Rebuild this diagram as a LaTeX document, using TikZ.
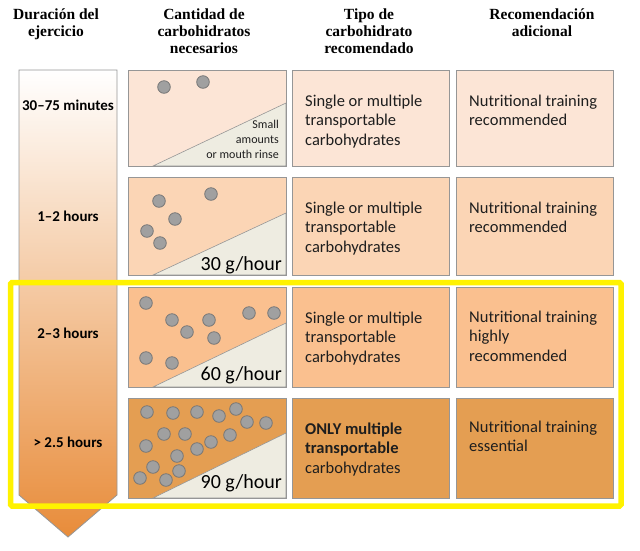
\documentclass[tikz,border=0pt]{standalone}
\usepackage{fontspec}
\setmainfont{Carlito}
\newfontfamily\hdrfont{Liberation Serif}
\usetikzlibrary{shadows}
\definecolor{rowa}{RGB}{252,229,214}
\definecolor{rowb}{RGB}{251,213,181}
\definecolor{rowc}{RGB}{250,192,143}
\definecolor{rowd}{RGB}{228,158,82}
\definecolor{tri}{RGB}{238,236,225}
\definecolor{bord}{RGB}{150,150,150}
\definecolor{dotf}{RGB}{160,160,160}
\definecolor{dotb}{RGB}{118,118,118}
\definecolor{arrm}{RGB}{243,200,176}
\definecolor{arrb}{RGB}{232,140,58}
\definecolor{txtc}{RGB}{30,30,30}
\begin{document}
\begin{tikzpicture}[x=1pt,y=-1pt,
  hdr/.style={font=\hdrfont\bfseries\fontsize{15.5}{17}\selectfont, align=center, anchor=north, inner sep=0, text=black},
  cell/.style={anchor=north west, inner sep=0, outer sep=0, draw=bord, line width=0.8pt,
    general shadow={fill=black!20, shadow xshift=1.2pt, shadow yshift=-1.3pt}},
  ctext/.style={font=\fontsize{16.5}{19.5}\selectfont, align=left, anchor=north west, inner sep=0, text=txtc},
  dur/.style={font=\bfseries\fontsize{15}{17}\selectfont, anchor=base, inner sep=0, text=black},
  rate/.style={font=\fontsize{20}{22}\selectfont, anchor=base east, inner sep=0, text=black},
  small/.style={font=\fontsize{12}{15}\selectfont, align=right, anchor=north east, inner sep=0, text=txtc},
  dot/.style={fill=dotf, draw=dotb, line width=0.8pt},
  tris/.style={fill=tri, draw=bord, line width=0.6pt},
  rim/.style={draw=bord, line width=0.8pt}
]
\useasboundingbox (0,0) rectangle (640,550);

% headers
\node[hdr] (h1) at (56,7) {\rule{0pt}{12pt}Duración del\\ejercicio};
\node[hdr] (h2) at (204,7) {\rule{0pt}{12pt}Cantidad de\\carbohidratos\\necesarios};
\node[hdr] (h3) at (369,7) {\rule{0pt}{12pt}Tipo de\\carbohidrato\\recomendado};
\node[hdr] (h4) at (542,7) {\rule{0pt}{12pt}Recomendación\\adicional};

% duration arrow
\path[shade, top color=white, middle color=arrm, bottom color=arrb, draw=bord, line width=0.8pt]
  (19,70) -- (117,70) -- (117,495) -- (68,537) -- (19,495) -- cycle;

\node[dur] (d1) at (68,110) {30–75 minutes};
\node[dur] (d2) at (68,221) {1–2 hours};
\node[dur] (d3) at (68,338) {2–3 hours};
\node[dur] (d4) at (68,447) {> 2.5 hours};

% row 1
\node[cell, fill=rowa, minimum width=158pt, minimum height=96pt] (b21) at (128,70) {};
\node[cell, fill=rowa, minimum width=157pt, minimum height=96pt] (b31) at (292,70) {};
\node[cell, fill=rowa, minimum width=157pt, minimum height=96pt] (b41) at (456,70) {};
% row 2
\node[cell, fill=rowb, minimum width=158pt, minimum height=98pt] (b22) at (128,177) {};
\node[cell, fill=rowb, minimum width=157pt, minimum height=98pt] (b32) at (292,177) {};
\node[cell, fill=rowb, minimum width=157pt, minimum height=98pt] (b42) at (456,177) {};
% row 3
\node[cell, fill=rowc, minimum width=158pt, minimum height=100pt] (b23) at (128,287) {};
\node[cell, fill=rowc, minimum width=157pt, minimum height=100pt] (b33) at (292,287) {};
\node[cell, fill=rowc, minimum width=157pt, minimum height=100pt] (b43) at (456,287) {};
% row 4
\node[cell, fill=rowd, minimum width=158pt, minimum height=100pt] (b24) at (128,398) {};
\node[cell, fill=rowd, minimum width=157pt, minimum height=100pt] (b34) at (292,398) {};
\node[cell, fill=rowd, minimum width=157pt, minimum height=100pt] (b44) at (456,398) {};

% triangles
\filldraw[tris] (153,166) -- (286,103) -- (286,166) -- cycle;
\filldraw[tris] (153,275) -- (286,213) -- (286,275) -- cycle;
\filldraw[tris] (153,387) -- (286,323) -- (286,387) -- cycle;
\filldraw[tris] (153,498) -- (286,433) -- (286,498) -- cycle;
\draw[rim] (b21.north west) rectangle (b21.south east);
\draw[rim] (b22.north west) rectangle (b22.south east);
\draw[rim] (b23.north west) rectangle (b23.south east);
\draw[rim] (b24.north west) rectangle (b24.south east);

% dots
\foreach \p in {(164,87),(203,82)} \draw[dot] \p circle[radius=6.3pt];
\foreach \p in {(159,201),(211,194),(175,219),(147,231),(160,243)} \draw[dot] \p circle[radius=6.3pt];
\foreach \p in {(146,303),(172,320),(209,320),(249,313),(274,313),(187,332),(214,338),(146,358),(172,363)} \draw[dot] \p circle[radius=6.3pt];
\foreach \p in {(147,412),(173,413),(197,412),(219,416),(236,409),(247,422),(266,423),(164,434),(185,434),(230,435),(211,442),(146,446),(197,449),(177,456),(153,467),(179,471),(140,478),(166,480)} \draw[dot] \p circle[radius=6.3pt];

% amounts
\node[small] (s1) at (279,118) {\rule{0pt}{10pt}Small\\amounts\\or mouth rinse};
\node[rate] (s2) at (282,270) {30 g/hour};
\node[rate] (s3) at (282,380) {60 g/hour};
\node[rate] (s4) at (282,488) {90 g/hour};

% type
\node[ctext] (t1) at (305,94) {\rule{0pt}{12pt}Single or multiple\\transportable\\carbohydrates};
\node[ctext] (t2) at (305,201) {\rule{0pt}{12pt}Single or multiple\\transportable\\carbohydrates};
\node[ctext] (t3) at (305,311) {\rule{0pt}{12pt}Single or multiple\\transportable\\carbohydrates};
\node[ctext] (t4) at (305,422) {\rule{0pt}{12pt}\textbf{ONLY multiple}\\\textbf{transportable}\\carbohydrates};

% recommendation
\node[ctext] (r1) at (469,94) {\rule{0pt}{12pt}Nutritional training\\recommended};
\node[ctext] (r2) at (469,201) {\rule{0pt}{12pt}Nutritional training\\recommended};
\node[ctext] (r3) at (469,310) {\rule{0pt}{12pt}Nutritional training\\highly\\recommended};
\node[ctext] (r4) at (469,420) {\rule{0pt}{12pt}Nutritional training\\essential};

% highlight
\draw[yellow, line width=5.5pt, rounded corners=1.5pt] (10.5,282.5) rectangle (621,506);
\end{tikzpicture}
\end{document}
